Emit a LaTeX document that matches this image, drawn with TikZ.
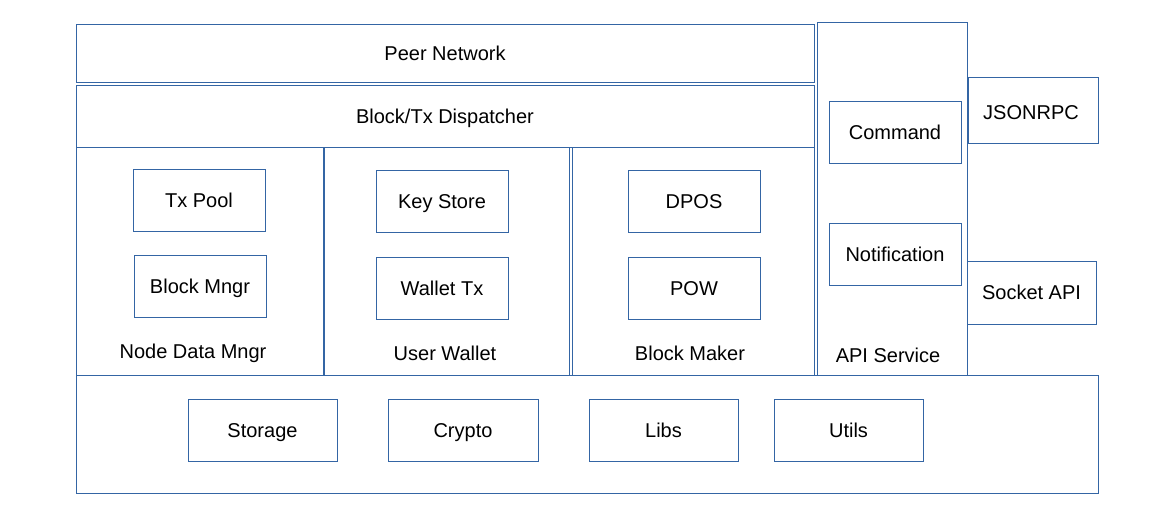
\documentclass[tikz,border=0pt]{standalone}
\usepackage{fontspec}
\setmainfont{Liberation Sans}
\definecolor{edge}{HTML}{3465A4}
\begin{document}
\begin{tikzpicture}[x=1pt,y=-1pt,
  blk/.style={draw=edge,line width=0.9pt},
  lbl/.style={font=\fontsize{20}{22}\selectfont,text=black,inner sep=0pt,text height=15pt,text depth=1pt}]
\useasboundingbox (0,0) rectangle (1163,512);
% layers
\draw[blk] (76,24) rectangle (814,82) node[lbl,midway] (peer) {Peer Network};
\draw[blk] (76,85) rectangle (814,147) node[lbl,midway] (disp) {Block/Tx Dispatcher};
\draw[blk] (76,147) rectangle (323.6,375);
\draw[blk] (324.4,147) rectangle (569,375);
\draw[blk] (572,147) rectangle (814,375);
\draw[blk] (817,22) rectangle (967,375);
\draw[blk] (76,375) rectangle (1098,493);
% column labels
\node[lbl] (ndm) at (193,351) {Node Data Mngr};
\node[lbl] (uw) at (445,353) {User Wallet};
\node[lbl] (bm) at (690,353) {Block Maker};
\node[lbl] (api) at (888,355) {API Service};
% inner boxes
\draw[blk] (133,169) rectangle (265,231) node[lbl,midway] (txpool) {Tx Pool};
\draw[blk] (134,255) rectangle (266,317) node[lbl,midway] (bmngr) {Block Mngr};
\draw[blk] (376,170) rectangle (508,232) node[lbl,midway] (ks) {Key Store};
\draw[blk] (376,257) rectangle (508,319) node[lbl,midway] (wtx) {Wallet Tx};
\draw[blk] (628,170) rectangle (760,232) node[lbl,midway] (dpos) {DPOS};
\draw[blk] (628,257) rectangle (760,319) node[lbl,midway] (pow) {POW};
\draw[blk] (829,101) rectangle (961,163) node[lbl,midway] (cmd) {Command};
\draw[blk] (829,223) rectangle (961,285) node[lbl,midway] (notif) {Notification};
\draw[blk] (968,77) rectangle (1098,143);
\node[lbl] (json) at (1031,112) {JSONRPC};
\draw[blk] (967,261) rectangle (1096,324) node[lbl,midway] (sock) {Socket API};
\draw[blk] (188,399) rectangle (337,461) node[lbl,midway] (stor) {Storage};
\draw[blk] (388,399) rectangle (538,461) node[lbl,midway] (cry) {Crypto};
\draw[blk] (589,399) rectangle (738,461) node[lbl,midway] (libs) {Libs};
\draw[blk] (774,399) rectangle (923,461) node[lbl,midway] (utils) {Utils};
\end{tikzpicture}
\end{document}
